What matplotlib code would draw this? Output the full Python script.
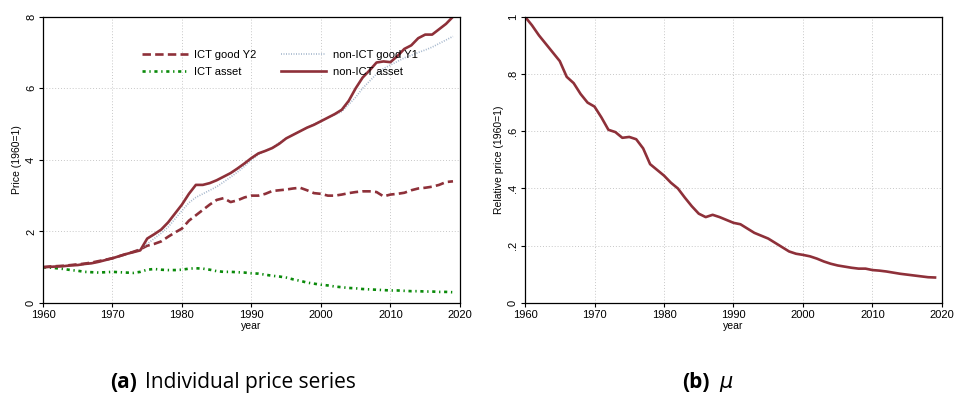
import matplotlib
matplotlib.use("Agg")
import matplotlib.pyplot as plt
import numpy as np

plt.rcParams["font.family"] = ["Liberation Sans", "DejaVu Sans"]

years = list(range(1960, 2020))

non_ict_asset = [1.00, 1.01, 1.02, 1.03, 1.05, 1.06, 1.09, 1.11, 1.15, 1.20,
                 1.25, 1.31, 1.37, 1.42, 1.47, 1.80, 1.92, 2.05, 2.25, 2.50,
                 2.75, 3.05, 3.30, 3.30, 3.35, 3.43, 3.53, 3.63, 3.76, 3.90,
                 4.05, 4.18, 4.25, 4.33, 4.45, 4.60, 4.70, 4.80, 4.90, 4.98,
                 5.08, 5.18, 5.28, 5.40, 5.65, 6.00, 6.30, 6.50, 6.72, 6.75,
                 6.73, 6.90, 7.10, 7.20, 7.40, 7.50, 7.50, 7.65, 7.80, 8.00]

non_ict_good_y1 = [1.00, 1.01, 1.02, 1.03, 1.05, 1.06, 1.08, 1.11, 1.15, 1.20,
                   1.25, 1.30, 1.36, 1.42, 1.50, 1.65, 1.80, 1.95, 2.12, 2.35,
                   2.58, 2.80, 2.95, 3.05, 3.15, 3.25, 3.38, 3.52, 3.66, 3.82,
                   4.00, 4.15, 4.25, 4.35, 4.48, 4.60, 4.70, 4.80, 4.90, 5.00,
                   5.10, 5.18, 5.26, 5.35, 5.55, 5.75, 6.00, 6.20, 6.40, 6.55,
                   6.65, 6.75, 6.85, 6.92, 7.00, 7.07, 7.15, 7.25, 7.35, 7.45]

ict_good_y2 = [1.00, 1.02, 1.03, 1.04, 1.06, 1.08, 1.10, 1.13, 1.17, 1.21,
               1.25, 1.31, 1.37, 1.43, 1.50, 1.60, 1.65, 1.72, 1.85, 1.97,
               2.08, 2.30, 2.45, 2.60, 2.75, 2.88, 2.93, 2.82, 2.87, 2.95,
               3.00, 3.00, 3.05, 3.13, 3.15, 3.17, 3.20, 3.22, 3.15, 3.07,
               3.05, 3.00, 3.00, 3.03, 3.07, 3.10, 3.12, 3.12, 3.10, 2.98,
               3.03, 3.05, 3.08, 3.15, 3.20, 3.22, 3.25, 3.30, 3.38, 3.40]

ict_asset = [1.00, 0.99, 0.97, 0.95, 0.92, 0.90, 0.87, 0.86, 0.85, 0.86,
             0.87, 0.86, 0.85, 0.84, 0.87, 0.93, 0.95, 0.93, 0.92, 0.92,
             0.93, 0.96, 0.97, 0.96, 0.93, 0.89, 0.87, 0.87, 0.86, 0.85,
             0.83, 0.82, 0.79, 0.76, 0.74, 0.71, 0.66, 0.62, 0.57, 0.54,
             0.51, 0.49, 0.46, 0.44, 0.42, 0.41, 0.39, 0.38, 0.37, 0.36,
             0.35, 0.35, 0.34, 0.33, 0.33, 0.32, 0.32, 0.31, 0.31, 0.30]

mu = [1.000, 0.970, 0.935, 0.905, 0.875, 0.845, 0.790, 0.768, 0.730, 0.700,
      0.686, 0.648, 0.605, 0.597, 0.577, 0.580, 0.572, 0.540, 0.485, 0.465,
      0.445, 0.420, 0.400, 0.368, 0.338, 0.312, 0.300, 0.308, 0.300, 0.290,
      0.280, 0.275, 0.260, 0.245, 0.235, 0.225, 0.210, 0.195, 0.180, 0.172,
      0.168, 0.163, 0.155, 0.145, 0.137, 0.131, 0.127, 0.123, 0.120, 0.120,
      0.115, 0.113, 0.110, 0.106, 0.102, 0.099, 0.096, 0.093, 0.090, 0.089]

x_ticks = [1960, 1970, 1980, 1990, 2000, 2010, 2020]
left_y_ticks = [0, 2, 4, 6, 8]
left_y_labels = ["0", "2", "4", "6", "8"]
right_y_ticks = [0, 0.2, 0.4, 0.6, 0.8, 1.0]
right_y_labels = ["0", ".2", ".4", ".6", ".8", "1"]

MAROON = "#8e3039"
GREEN = "#0a8a0a"
STEEL = "#a4b6cc"

fig = plt.figure(figsize=(9.57, 3.94), dpi=100)
ax1 = fig.add_axes([0.0449, 0.231, 0.4357, 0.7266])
ax2 = fig.add_axes([0.5486, 0.231, 0.4357, 0.7266])


def style_axes(ax, yticks, ylabels, ylim, ylabel):
    ax.set_xlim(1960, 2020)
    ax.set_ylim(*ylim)
    ax.set_xticks(x_ticks)
    ax.set_yticks(yticks)
    ax.set_yticklabels(ylabels, rotation=90, va="center")
    ax.tick_params(axis="both", labelsize=8, direction="out", length=3,
                   width=0.8, pad=2)
    ax.grid(True, linestyle=(0, (1, 2)), color="#c8c8c8", linewidth=0.7)
    ax.set_axisbelow(True)
    for s in ax.spines.values():
        s.set_linewidth(0.9)
        s.set_color("black")
    ax.set_xlabel("year", fontsize=7.5, labelpad=1)
    ax.set_ylabel(ylabel, fontsize=7.5, labelpad=3)


ax1.plot(years, ict_good_y2, color=MAROON, lw=1.9, linestyle=(0, (3.2, 1.6)),
         label="ICT good Y2")
ax1.plot(years, ict_asset, color=GREEN, lw=1.9,
         linestyle=(0, (1.2, 1.4, 0.5, 1.4)), label="ICT asset")
ax1.plot(years, non_ict_good_y1, color=STEEL, lw=1.2,
         linestyle=(0, (0.6, 0.9)), label="non-ICT good Y1")
ax1.plot(years, non_ict_asset, color=MAROON, lw=1.9, label="non-ICT asset")
style_axes(ax1, left_y_ticks, left_y_labels, (0, 8), "Price (1960=1)")

ax1.legend(loc="upper left", bbox_to_anchor=(0.227, 0.9), ncol=2,
           frameon=False, fontsize=8, handlelength=4.1, handletextpad=0.6,
           columnspacing=2.15, labelspacing=0.62, borderaxespad=0)

ax2.plot(years, mu, color=MAROON, lw=1.9)
style_axes(ax2, right_y_ticks, right_y_labels, (0, 1), "Relative price (1960=1)")

cap_font = ["Open Sans", "DejaVu Sans"]
cap_y = 0.014
fig.text(0.115, cap_y, "(a)", fontsize=15, fontweight="bold",
         family=cap_font, ha="left", va="baseline")
fig.text(0.1515, cap_y, "Individual price series", fontsize=15,
         family=cap_font, ha="left", va="baseline")
fig.text(0.7127, cap_y, "(b)", fontsize=15, fontweight="bold",
         family=cap_font, ha="left", va="baseline")
fig.text(0.751, cap_y, r"$\mu$", fontsize=15, ha="left", va="baseline")

fig.savefig("out.png", dpi=100)
